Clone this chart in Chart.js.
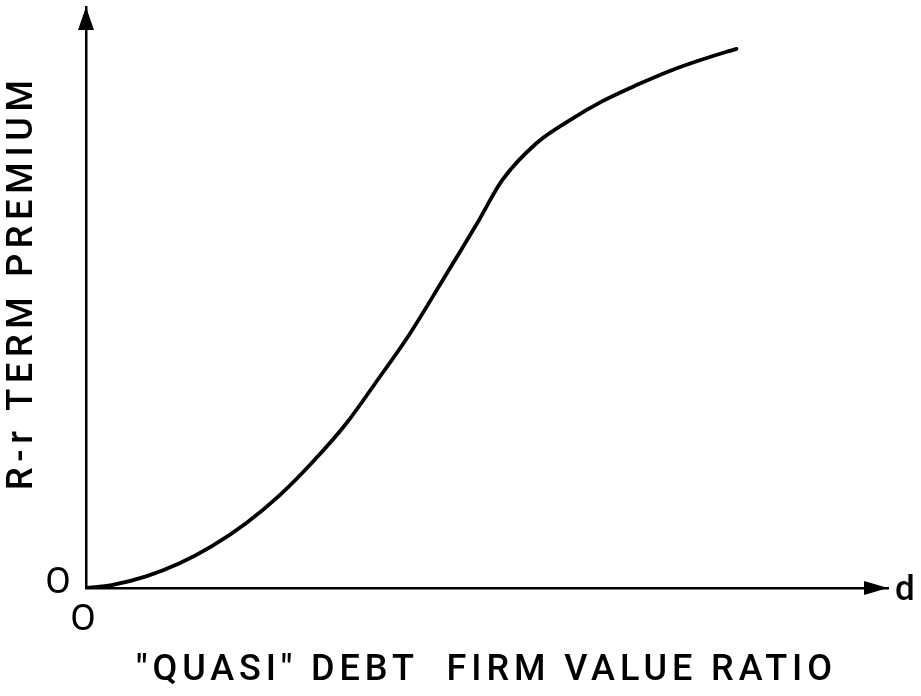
<!DOCTYPE html>
<html>
<head>
<meta charset="utf-8">
<script src="https://cdn.jsdelivr.net/npm/chart.js@4.4.1/dist/chart.umd.min.js"></script>
<style>
  html, body { margin: 0; padding: 0; background: #fff; }
  #wrap { width: 921px; height: 696px; position: relative; }
</style>
</head>
<body>
<div id="wrap"><canvas id="c" width="921" height="696"></canvas></div>
<script>
// Data (arbitrary units, 0..100 on both axes)
const debtRatio = [0, 3.2, 7.5, 11.6, 15.7, 20.0, 24.1, 28.2, 32.5, 36.2, 40.3, 44.4, 48.7, 51.9, 56.2, 60.3, 64.4, 68.7, 72.8, 76.9, 81.1];
const termPremium = [0, 0.5, 2.0, 4.2, 7.2, 11.2, 15.9, 21.6, 28.4, 35.5, 43.6, 52.8, 62.6, 70.2, 76.6, 80.5, 83.8, 86.6, 89.0, 91.0, 92.8];
const xTitle = '"QUASI" DEBT  FIRM VALUE RATIO';
const yTitle = 'R-r TERM PREMIUM';
const originXLabel = 'O';
const originYLabel = 'O';
const xAxisEndLabel = 'd';

const points = debtRatio.map((x, i) => ({ x: x, y: termPremium[i] }));
const FONT = 'Roboto, "Liberation Sans", Arial, sans-serif';
const WEIGHT = '500 ';

function spacedText(ctx, text, cx, cy, target, size) {
  ctx.font = WEIGHT + size + 'px ' + FONT;
  ctx.letterSpacing = '0px';
  const w = ctx.measureText(text).width;
  const n = text.length;
  const s = (target - w) / (n - 1);
  ctx.letterSpacing = s + 'px';
  ctx.textAlign = 'left';
  ctx.textBaseline = 'middle';
  ctx.fillText(text, cx - target / 2, cy);
  ctx.letterSpacing = '0px';
}

const decor = {
  id: 'decor',
  afterDraw(chart) {
    const ctx = chart.ctx;
    const xs = chart.scales.x, ys = chart.scales.y;
    const x0 = xs.getPixelForValue(0);
    const y0 = ys.getPixelForValue(0);
    const top = chart.chartArea.top;
    const right = chart.chartArea.right;
    ctx.save();
    ctx.fillStyle = '#000';
    // arrowheads
    ctx.beginPath();
    ctx.moveTo(x0, top);
    ctx.lineTo(x0 - 8, top + 23);
    ctx.lineTo(x0 + 8, top + 23);
    ctx.closePath();
    ctx.fill();
    ctx.beginPath();
    ctx.moveTo(right, y0);
    ctx.lineTo(right - 24, y0 - 7);
    ctx.lineTo(right - 24, y0 + 7);
    ctx.closePath();
    ctx.fill();
    // origin labels
    ctx.font = '400 37px ' + FONT;
    ctx.textBaseline = 'middle';
    ctx.textAlign = 'center';
    ctx.fillText(originYLabel, x0 - 28, y0 - 4);
    ctx.fillText(originXLabel, x0 - 3, y0 + 33);
    // axis end label
    ctx.font = WEIGHT + '35px ' + FONT;
    ctx.textAlign = 'left';
    ctx.fillText(xAxisEndLabel, right + 7, y0 + 3);
    // x title
    spacedText(ctx, xTitle, 484, 671, 696, 36);
    // y title rotated
    ctx.save();
    ctx.translate(23, 285);
    ctx.rotate(-Math.PI / 2);
    spacedText(ctx, yTitle, 0, 0, 410, 36);
    ctx.restore();
    ctx.restore();
  }
};

new Chart(document.getElementById('c'), {
  type: 'line',
  data: {
    datasets: [{
      data: points,
      borderColor: '#000',
      borderWidth: 3.8,
      pointRadius: 0,
      fill: false,
      cubicInterpolationMode: 'monotone',
      borderCapStyle: 'round'
    }]
  },
  options: {
    responsive: false,
    animation: false,
    layout: { padding: { left: 86, right: 33, top: 7, bottom: 108 } },
    plugins: { legend: { display: false }, tooltip: { enabled: false } },
    scales: {
      x: {
        type: 'linear', min: 0, max: 100,
        ticks: { display: false },
        grid: { display: false, drawTicks: false },
        border: { display: true, color: '#000', width: 2.5 }
      },
      y: {
        type: 'linear', min: 0, max: 100,
        ticks: { display: false },
        grid: { display: false, drawTicks: false },
        border: { display: true, color: '#000', width: 2.5 }
      }
    }
  },
  plugins: [decor]
});
</script>
</body>
</html>
